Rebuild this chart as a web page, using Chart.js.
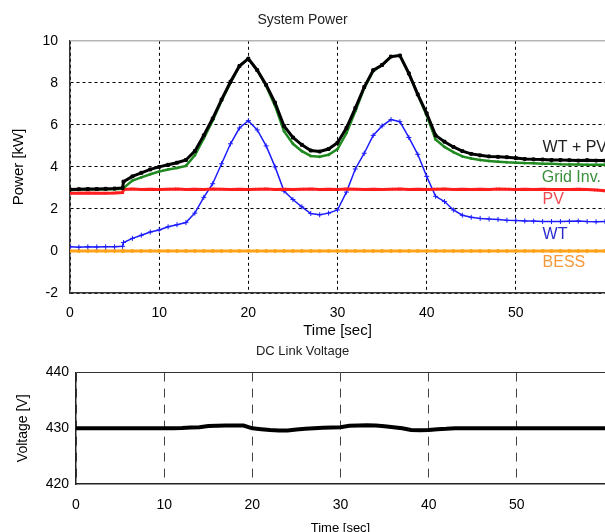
<!DOCTYPE html>
<html>
<head>
<meta charset="utf-8">
<script src="https://cdn.jsdelivr.net/npm/chart.js@4.4.0/dist/chart.umd.min.js"></script>
<style>
html, body { margin: 0; padding: 0; background: #fff; overflow: hidden; width: 605px; height: 532px; }
#top { position: absolute; left: 0; top: 0; width: 605px; height: 340px; }
#bot { position: absolute; left: 0; top: 340px; width: 605px; height: 196px; }
</style>
</head>
<body>
<div id="top"><canvas id="powerChart"></canvas></div>
<div id="bot"><canvas id="voltChart"></canvas></div>
<script>
// time axis of the power plot (sec), extra point just before the 6 s step
var time = [0,1,2,3,4,5,5.9,6,7,8,9,10,11,12,13,14,15,16,17,18,19,20,21,22,23,24,25,26,27,28,29,30,
            31,32,33,34,35,36,37,38,39,40,41,42,43,44,45,46,47,48,49,50,51,52,53,54,55,56,57,58,59,60];

var wtpv = [2.93,2.94,2.95,2.95,2.96,2.97,3.0,3.3,3.55,3.72,3.88,4.0,4.1,4.2,4.33,4.75,5.5,6.3,7.2,8.05,8.8,9.15,
            8.6,7.9,7.05,5.95,5.4,5.05,4.78,4.73,4.85,5.15,5.85,6.8,7.8,8.6,8.85,9.25,9.3,8.45,7.45,6.55,
            5.5,5.2,4.95,4.75,4.62,4.55,4.5,4.48,4.46,4.42,4.38,4.36,4.35,4.33,4.33,4.32,4.3,4.32,4.3,4.3];

var gridInv = [2.9,2.91,2.92,2.92,2.93,2.94,2.96,3.0,3.35,3.5,3.65,3.78,3.88,3.95,4.05,4.55,5.35,6.2,7.15,8.0,8.8,9.15,
               8.6,7.85,6.9,5.7,5.1,4.75,4.52,4.48,4.58,4.85,5.6,6.65,7.75,8.55,8.85,9.25,9.3,8.45,7.45,6.45,
               5.3,4.95,4.7,4.5,4.4,4.33,4.28,4.25,4.22,4.2,4.18,4.17,4.15,4.15,4.13,4.12,4.12,4.1,4.1,4.1];

var pv = [2.75,2.75,2.76,2.75,2.75,2.76,2.78,2.93,2.95,2.93,2.94,2.93,2.94,2.95,2.93,2.94,2.93,2.95,2.94,2.93,2.94,2.93,
          2.94,2.95,2.93,2.94,2.93,2.94,2.95,2.93,2.94,2.93,2.95,2.94,2.93,2.94,2.93,2.94,2.95,2.93,2.94,2.93,
          2.94,2.95,2.93,2.94,2.93,2.94,2.93,2.95,2.94,2.93,2.94,2.93,2.94,2.93,2.92,2.93,2.94,2.93,2.9,2.86];

var wt = [0.2,0.18,0.2,0.19,0.2,0.2,0.22,0.4,0.6,0.75,0.9,1.0,1.15,1.25,1.35,1.8,2.55,3.2,4.15,5.1,5.85,6.2,
          5.76,5.0,4.0,2.85,2.45,2.1,1.78,1.72,1.8,1.95,2.8,3.9,4.65,5.5,5.95,6.25,6.15,5.4,4.6,3.55,
          2.6,2.35,1.95,1.7,1.6,1.55,1.52,1.5,1.46,1.45,1.43,1.42,1.4,1.4,1.4,1.41,1.42,1.4,1.39,1.4];

var bess = [0,0,0,0,0,0,0,0,0,0,0,0,0,0,0,0,0,0,0,0,0,0,0,0,0,0,0,0,0,0,0,0,
            0,0,0,0,0,0,0,0,0,0,0,0,0,0,0,0,0,0,0,0,0,0,0,0,0,0,0,0,0,0];

var seriesNames = ['WT + PV', 'Grid Inv.', 'PV', 'WT', 'BESS'];
var powerTicks = [-2, 0, 2, 4, 6, 8, 10];
var timeTicks = [0, 10, 20, 30, 40, 50];

// DC link voltage (V) vs time (sec)
var vTime = [0,1,2,3,4,5,6,7,8,9,10,11,12,13,14,15,16,17,18,19,20,21,22,23,24,25,26,27,28,29,30,
             31,32,33,34,35,36,37,38,39,40,41,42,43,44,45,46,47,48,49,50,51,52,53,54,55,56,57,58,59,60];
var volt = [430,430,430,430,430,430,430,430,430,430,430,430,430.05,430.15,430.2,430.4,430.45,430.5,430.5,430.5,
            430,429.85,429.7,429.6,429.6,429.8,429.9,430,430.1,430.15,430.2,430.45,430.5,430.55,430.5,430.35,
            430.2,430,429.7,429.65,429.7,429.85,429.9,430,430,430,430,430,430,430,430,430,430,430,430,430,430,430,430,430,430];

function pts(xs, ys) {
  return xs.map(function (x, i) { return { x: x, y: ys[i] }; });
}

var FONT = 'Liberation Sans, Arial, sans-serif';

// no side padding for the x axis so the plot runs to the right edge
function noSidePad(s) { s.paddingLeft = 0; s.paddingRight = 0; }

var labelPlugin = {
  id: 'seriesLabels',
  afterDatasetsDraw: function (chart) {
    var c = chart.ctx, xs = chart.scales.x, ys = chart.scales.y;
    var spots = [[53, 4.9, '#222'], [52.9, 3.5, '#3a8f3a'], [53, 2.43, '#ee4a50'], [53, 0.76, '#2a2ad0'], [53, -0.57, '#f5993a']];
    c.save();
    c.font = '16px ' + FONT;
    c.textBaseline = 'middle';
    c.textAlign = 'left';
    seriesNames.forEach(function (name, i) {
      c.fillStyle = spots[i][2];
      c.fillText(name, xs.getPixelForValue(spots[i][0]), ys.getPixelForValue(spots[i][1]));
    });
    // light top frame line
    c.strokeStyle = '#b5b5b5';
    c.lineWidth = 1.5;
    c.beginPath();
    c.moveTo(chart.chartArea.left, chart.chartArea.top);
    c.lineTo(chart.chartArea.right, chart.chartArea.top);
    c.stroke();
    c.restore();
  }
};

new Chart(document.getElementById('powerChart'), {
  type: 'line',
  data: {
    datasets: [
      { label: seriesNames[0], data: pts(time, wtpv), borderColor: '#000', backgroundColor: '#000', borderWidth: 3,
        pointStyle: 'rect', pointRadius: 2, pointBorderWidth: 1 },
      { label: seriesNames[1], data: pts(time, gridInv), borderColor: '#1f8a1f', backgroundColor: '#1f8a1f', borderWidth: 2.5,
        pointStyle: 'circle', pointRadius: 1, pointBorderWidth: 1 },
      { label: seriesNames[2], data: pts(time, pv), borderColor: '#ff1c1c', backgroundColor: '#ff1c1c', borderWidth: 3,
        pointStyle: 'crossRot', pointRadius: 2, pointBorderWidth: 1 },
      { label: seriesNames[3], data: pts(time, wt), borderColor: '#1c1cff', backgroundColor: '#1c1cff', borderWidth: 1.5,
        pointStyle: 'cross', pointRadius: 2.5, pointBorderWidth: 1 },
      { label: seriesNames[4], data: pts(time, bess), borderColor: '#ffa31a', backgroundColor: '#ffa31a', borderWidth: 3,
        pointStyle: 'circle', pointRadius: 1.5, pointBorderWidth: 1 }
    ]
  },
  options: {
    responsive: true,
    maintainAspectRatio: false,
    animation: false,
    layout: { padding: 0, autoPadding: false },
    plugins: {
      legend: { display: false },
      tooltip: { enabled: false },
      title: { display: true, text: 'System Power', color: '#222', font: { family: FONT, size: 14, weight: 'normal' },
               padding: { top: 12, bottom: 12 } }
    },
    scales: {
      x: {
        type: 'linear', min: 0, max: 60,
        afterBuildTicks: function (s) { s.ticks = timeTicks.concat([60]).map(function (v) { return { value: v }; }); },
        afterFit: function (s) { s.height = 47; noSidePad(s); },
        ticks: { color: '#000', font: { family: FONT, size: 14 }, padding: 12, autoSkip: false, maxRotation: 0,
                 callback: function (v) { return v === 60 ? '' : v; } },
        grid: { color: '#000', lineWidth: 1, drawTicks: false },
        border: { color: '#333', width: 1.5, dash: [3, 3] },
        title: { display: true, text: 'Time [sec]', color: '#000', font: { family: FONT, size: 15 }, padding: { top: 0, bottom: 0 } }
      },
      y: {
        min: -2, max: 10,
        afterBuildTicks: function (s) { s.ticks = powerTicks.map(function (v) { return { value: v }; }); },
        afterFit: function (s) { s.width = 70; },
        ticks: { color: '#000', font: { family: FONT, size: 14 }, padding: 12 },
        grid: { color: function (ctx) { return ctx.tick && ctx.tick.value === 10 ? 'rgba(0,0,0,0)' : '#000'; }, lineWidth: 1, drawTicks: false },
        border: { color: '#333', width: 1.5, dash: [3, 3] },
        title: { display: true, text: 'Power [kW]', color: '#000', font: { family: FONT, size: 15 }, padding: { top: 10, bottom: 0 } }
      }
    }
  },
  plugins: [labelPlugin]
});

new Chart(document.getElementById('voltChart'), {
  type: 'line',
  data: {
    datasets: [
      { label: 'DC Link Voltage', data: pts(vTime, volt), borderColor: '#000', borderWidth: 4, pointRadius: 0 }
    ]
  },
  options: {
    responsive: true,
    maintainAspectRatio: false,
    animation: false,
    layout: { padding: 0, autoPadding: false },
    plugins: {
      legend: { display: false },
      tooltip: { enabled: false },
      title: { display: true, text: 'DC Link Voltage', color: '#222', font: { family: FONT, size: 13, weight: 'normal' },
               padding: { top: 4, bottom: 13 } }
    },
    scales: {
      x: {
        type: 'linear', min: 0, max: 60,
        afterBuildTicks: function (s) { s.ticks = timeTicks.concat([60]).map(function (v) { return { value: v }; }); },
        afterFit: function (s) { s.height = 52; noSidePad(s); },
        ticks: { color: '#000', font: { family: FONT, size: 14 }, padding: 13, autoSkip: false, maxRotation: 0,
                 callback: function (v) { return v === 60 ? '' : v; } },
        grid: { color: '#444', lineWidth: 1, drawTicks: false },
        border: { color: '#222', width: 1.5, dash: [9, 7] },
        title: { display: true, text: 'Time [sec]', color: '#000', font: { family: FONT, size: 13 }, padding: { top: 0, bottom: 0 } }
      },
      y: {
        min: 420, max: 440,
        afterBuildTicks: function (s) { s.ticks = [420, 430, 440].map(function (v) { return { value: v }; }); },
        afterFit: function (s) { s.width = 76; },
        ticks: { color: '#000', font: { family: FONT, size: 14 }, padding: 7 },
        grid: { color: function (ctx) { return ctx.tick && ctx.tick.value === 440 ? '#333' : 'rgba(0,0,0,0)'; }, lineWidth: 1, drawTicks: false },
        border: { color: '#222', width: 1.5, dash: [] },
        title: { display: true, text: 'Voltage [V]', color: '#000', font: { family: FONT, size: 14 }, padding: { top: 15, bottom: 0 } }
      }
    }
  }
});
</script>
</body>
</html>
